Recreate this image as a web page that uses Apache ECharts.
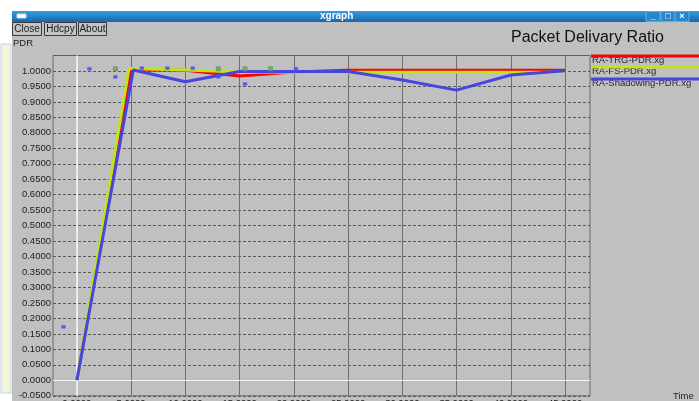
<!DOCTYPE html>
<html>
<head>
<meta charset="utf-8">
<script src="https://cdn.jsdelivr.net/npm/echarts@6/dist/echarts.min.js"></script>
<style>
html,body{margin:0;padding:0;background:#ffffff;}
#chart{width:699px;height:401px;}
</style>
</head>
<body>
<div id="chart"></div>
<script>
// ---- data ----
const seriesNames = ['RA-TRG-PDR.xg', 'RA-FS-PDR.xg', 'RA-Shadowing-PDR.xg'];
const seriesColors = ['#ff0000', '#bfe41e', '#4646dc'];

const trgX = [0, 5, 10, 15, 20, 25, 30, 35, 40, 45];
const trgY = [0, 1.004, 1.002, 0.984, 0.997, 1.002, 1.002, 1.002, 1.002, 1.002];

const fsX = [0, 4.8, 10, 15, 20, 25, 30, 35, 40, 45];
const fsY = [0, 1.008, 1.003, 0.997, 0.996, 0.996, 0.996, 0.996, 0.996, 0.996];

const shX = [0, 5.2, 10, 15, 20, 25, 30, 35, 40, 45];
const shY = [0, 1.003, 0.965, 0.998, 0.998, 0.998, 0.971, 0.938, 0.987, 1.001];

const blueDotX = [-1.23, 1.16, 3.55, 5.99, 8.34, 10.68, 13.04, 15.5, 20.2];
const blueDotY = [0.173, 1.007, 0.981, 1.009, 1.009, 1.009, 0.981, 0.958, 1.007];

const greenDotX = [3.55, 13.04, 15.5, 17.86];
const greenDotY = [1.007, 1.007, 1.007, 1.007];

const xTicks = [0, 5, 10, 15, 20, 25, 30, 35, 40, 45];
const xTickLabels = ['0.0000', '5.0000', '10.0000', '15.0000', '20.0000', '25.0000', '30.0000', '35.0000', '40.0000', '45.0000'];
const yMin = -0.05, yMax = 1.05, yStep = 0.05;
const xMin = -2.2, xMax = 47.3;

const chartTitle = 'Packet Delivary Ratio';
const windowTitle = 'xgraph';
const buttonLabels = ['Close', 'Hdcpy', 'About'];
const yName = 'PDR';
const xName = 'Time';

// ---- helpers ----
function pairs(xs, ys) { return xs.map((x, i) => [x, ys[i]]); }
const FONT = '"Liberation Sans", Arial, Helvetica, sans-serif';
const TXT = '#1c1c1c';

const chart = echarts.init(document.getElementById('chart'), null, {renderer: 'canvas'});

// window chrome + legend as graphics
const graphics = [];
graphics.push({type: 'rect', shape: {x: 0, y: 0, width: 699, height: 11}, style: {fill: '#ffffff'}, silent: true});
graphics.push({type: 'rect', shape: {x: 0, y: 0, width: 12, height: 401}, style: {fill: '#ffffff'}, silent: true});
graphics.push({type: 'rect', shape: {x: 1, y: 44, width: 10, height: 349}, style: {fill: '#f4f5d8', stroke: '#b8d4ee', lineWidth: 1}, silent: true});
graphics.push({type: 'rect', shape: {x: 12, y: 11, width: 687, height: 11},
  style: {fill: new echarts.graphic.LinearGradient(0, 0, 0, 1, [{offset: 0, color: '#3a9be0'}, {offset: 1, color: '#1468b0'}])}, silent: true});
graphics.push({type: 'rect', shape: {x: 17, y: 14, width: 9, height: 4}, style: {fill: '#ffffff', stroke: '#d0d8e0'}, silent: true});
graphics.push({type: 'text', x: 320, y: 16.5, style: {text: windowTitle, fill: '#ffffff', font: 'bold 10px ' + FONT, textVerticalAlign: 'middle'}, silent: true});
[[646, '_'], [661, '□'], [675, '×']].forEach(function (b) {
  graphics.push({type: 'rect', shape: {x: b[0], y: 11.5, width: 14, height: 10}, style: {fill: '#2a86cc', stroke: '#5aaee8', lineWidth: 1}, silent: true});
  graphics.push({type: 'text', x: b[0] + 7, y: 16.5, style: {text: b[1], fill: '#ffffff', font: 'bold 9px ' + FONT, textAlign: 'center', textVerticalAlign: 'middle'}, silent: true});
});
const btnX = [12.5, 44.5, 78.5];
const btnW = [29, 32, 28];
buttonLabels.forEach(function (t, i) {
  graphics.push({type: 'rect', shape: {x: btnX[i], y: 22.5, width: btnW[i], height: 13}, style: {fill: '#c4c4c4', stroke: '#3a3a3a', lineWidth: 1}, silent: true});
  graphics.push({type: 'text', x: btnX[i] + btnW[i] / 2, y: 29.5, style: {text: t, fill: TXT, font: '10px ' + FONT, textAlign: 'center', textVerticalAlign: 'middle'}, silent: true});
});
graphics.push({type: 'text', x: 13, y: 43.5, style: {text: yName, fill: TXT, font: '9.5px ' + FONT, textVerticalAlign: 'middle'}, silent: true});
graphics.push({type: 'text', x: 673, y: 396, style: {text: xName, fill: TXT, font: '9.5px ' + FONT, textVerticalAlign: 'middle'}, silent: true});
const legendLineY = [56, 67, 79];
const legendTextY = [60.5, 71, 83];
seriesNames.forEach(function (n, i) {
  graphics.push({type: 'text', x: 592, y: legendTextY[i], style: {text: n, fill: '#2a2a2a', font: '9.5px ' + FONT, textVerticalAlign: 'middle'}, silent: true});
  graphics.push({type: 'line', shape: {x1: 591, y1: legendLineY[i], x2: 699, y2: legendLineY[i]}, style: {stroke: seriesColors[i], lineWidth: 3}, silent: true});
});

const lineData = [pairs(trgX, trgY), pairs(fsX, fsY), pairs(shX, shY)];
const series = lineData.map(function (d, i) {
  return {
    name: seriesNames[i], type: 'line', data: d, showSymbol: false, symbol: 'none',
    lineStyle: {color: seriesColors[i], width: 3},
    itemStyle: {color: seriesColors[i]}, animation: false, z: 3 + i, clip: false
  };
});
series.unshift({
  type: 'line', data: [], silent: true, z: 2,
  markLine: {
    silent: true, symbol: 'none', animation: false, label: {show: false},
    data: [
      {xAxis: 0, lineStyle: {color: '#ececec', width: 2, type: 'solid'}},
      {yAxis: 0, lineStyle: {color: '#f4f4f4', width: 1.2, type: 'solid'}}
    ]
  }
});
series.push({
  type: 'scatter', data: pairs(blueDotX, blueDotY), symbol: 'rect', symbolSize: [4, 3],
  itemStyle: {color: '#3c3cf0', borderColor: '#7070ff', borderWidth: 0.5}, z: 8, animation: false
});
series.push({
  type: 'scatter', data: pairs(greenDotX, greenDotY), symbol: 'rect', symbolSize: 4,
  itemStyle: {color: '#d06a6a', borderColor: '#36b06a', borderWidth: 1}, z: 8, animation: false
});

const option = {
  backgroundColor: '#c0c0c0',
  animation: false,
  textStyle: {fontFamily: FONT},
  title: {
    text: chartTitle, left: 506, top: 24.5,
    textStyle: {fontSize: 16, fontWeight: 'normal', color: '#111', fontFamily: FONT}
  },
  grid: {left: 53, top: 55.5, width: 537, height: 340.3, show: true, borderColor: '#6a6a6a', borderWidth: 1,
    backgroundColor: 'transparent', containLabel: false, outerBoundsMode: 'none'},
  xAxis: {
    type: 'value', min: xMin, max: xMax,
    axisLine: {show: false},
    axisTick: {show: false, customValues: xTicks},
    axisLabel: {
      customValues: xTicks, margin: 3, fontSize: 9.5, color: TXT, fontFamily: FONT,
      formatter: function (v) { const i = xTicks.indexOf(v); return i >= 0 ? xTickLabels[i] : ''; }
    },
    splitLine: {show: true, lineStyle: {color: '#6e6e6e', width: 1, type: 'solid'}}
  },
  yAxis: {
    type: 'value', min: yMin, max: yMax, interval: yStep,
    axisLine: {show: true, lineStyle: {color: '#6a6a6a'}},
    axisTick: {show: true, length: 2, lineStyle: {color: '#555'}},
    axisLabel: {margin: 2, fontSize: 9.5, color: TXT, fontFamily: FONT, showMaxLabel: false,
      formatter: function (v) { return v.toFixed(4); }},
    splitLine: {show: true, lineStyle: {color: '#5a5a5a', width: 1, type: [3, 2]}}
  },
  graphic: graphics,
  series: series
};
chart.setOption(option);
</script>
</body>
</html>
